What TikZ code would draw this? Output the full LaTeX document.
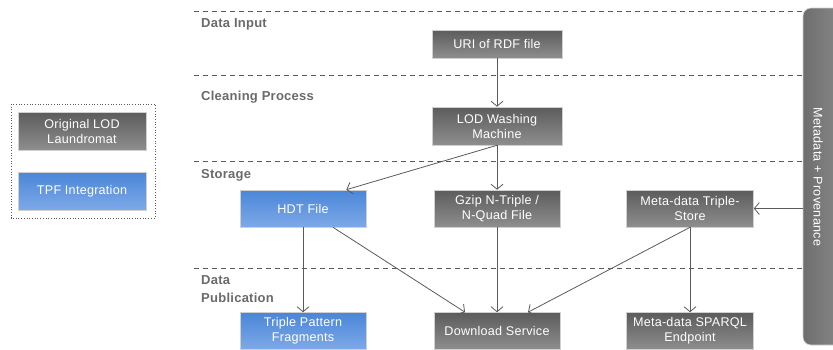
\documentclass[tikz,border=0pt]{standalone}
\usepackage{fontspec}
\setmainfont{Liberation Sans}
\usetikzlibrary{arrows.meta,calc}
\definecolor{gtop}{HTML}{5C5C5C}
\definecolor{gbot}{HTML}{8E8E8E}
\definecolor{btop}{HTML}{4A86D8}
\definecolor{bbot}{HTML}{7EA9E8}
\definecolor{lbl}{HTML}{6A6A6A}
\definecolor{ln}{HTML}{5A5A5A}
\definecolor{bord}{HTML}{D0D0D0}
\definecolor{barl}{HTML}{6E6E6E}
\definecolor{barr}{HTML}{8A8A8A}
\begin{document}
\begin{tikzpicture}[x=1pt,y=-1pt,
  graybox/.style={rectangle, top color=gtop, bottom color=gbot, draw=bord, line width=0.6pt,
    text=white, font=\fontsize{12.6}{15}\selectfont\addfontfeatures{LetterSpace=2}, align=center, inner sep=0pt,
    minimum width=126pt, minimum height=37pt},
  bluebox/.style={graybox, top color=btop, bottom color=bbot},
  phase/.style={anchor=base west, inner sep=0pt, text=lbl, font=\fontsize{13}{17.5}\selectfont\bfseries\addfontfeatures{LetterSpace=2}, align=left},
  sep/.style={draw=ln, line width=0.8pt, dash pattern=on 5pt off 4pt},
  conn/.style={draw=ln, line width=0.8pt, -{Straight Barb[length=5pt,width=12pt,line width=0.8pt]}}
]
\useasboundingbox (0,0) rectangle (833,349);
\clip (0,0) rectangle (833,349);

% right bar
\node[rectangle, rounded corners=8pt, left color=barl, right color=barr, draw=bord, line width=0.6pt,
  minimum width=42pt, minimum height=337pt, inner sep=0pt] (bar) at (824,176.5) {};
\node[rotate=-90, text=white, font=\fontsize{12.6}{14}\selectfont\addfontfeatures{LetterSpace=2}, inner sep=0pt] (bartext) at (818,177) {Metadata + Provenance};

% separators
\foreach \yy in {11,75,161,268} \draw[sep] (194,\yy) -- (803,\yy);

% phase labels
\node[phase] (l1) at (201,27.5) {Data Input};
\node[phase] (l2) at (201,100) {Cleaning Process};
\node[phase] (l3) at (201,178) {Storage};
\node[phase] (l4) at (201,284.5) {Data};
\node[phase] (l5) at (201,302) {Publication};

% legend
\draw[ln, line width=0.7pt, dotted] (11,104) rectangle (155,218);
\node[graybox, minimum width=128pt, minimum height=38pt] (lg1) at (82,131) {Original LOD\\Laundromat};
\node[bluebox, minimum width=128pt, minimum height=38pt] (lg2) at (82,191) {TPF Integration};

% nodes
\node[graybox, minimum width=130pt, minimum height=28pt] (uri) at (497,44) {URI of RDF file};
\node[graybox, minimum width=130pt, minimum height=38pt] (lod) at (497,126) {LOD Washing\\Machine};
\node[bluebox] (hdt) at (303,208.5) {HDT File};
\node[graybox] (gzip) at (497,208.5) {Gzip N-Triple /\\N-Quad File};
\node[graybox, minimum width=127pt] (mts) at (690,208.5) {Meta-data Triple-\\Store};
\node[bluebox] (tpf) at (303,331) {Triple Pattern\\Fragments};
\node[graybox] (dl) at (497,331) {Download Service};
\node[graybox, minimum width=127pt] (sparql) at (690,331) {Meta-data SPARQL\\Endpoint};

% connectors
\draw[conn] (uri) -- (lod);
\draw[conn] (lod.south) -- ($(hdt.north east)+(-20,0)$);
\draw[conn] (lod) -- (gzip);
\draw[conn] (bar.west |- mts) -- (mts);
\draw[conn] (hdt) -- (tpf);
\draw[conn] ($(hdt.south)+(30,0)$) -- ($(dl.north)+(-32,0)$);
\draw[conn] (gzip) -- (dl);
\draw[conn] (mts.south) -- ($(dl.north)+(31,0)$);
\draw[conn] (mts) -- (sparql);
\end{tikzpicture}
\end{document}
